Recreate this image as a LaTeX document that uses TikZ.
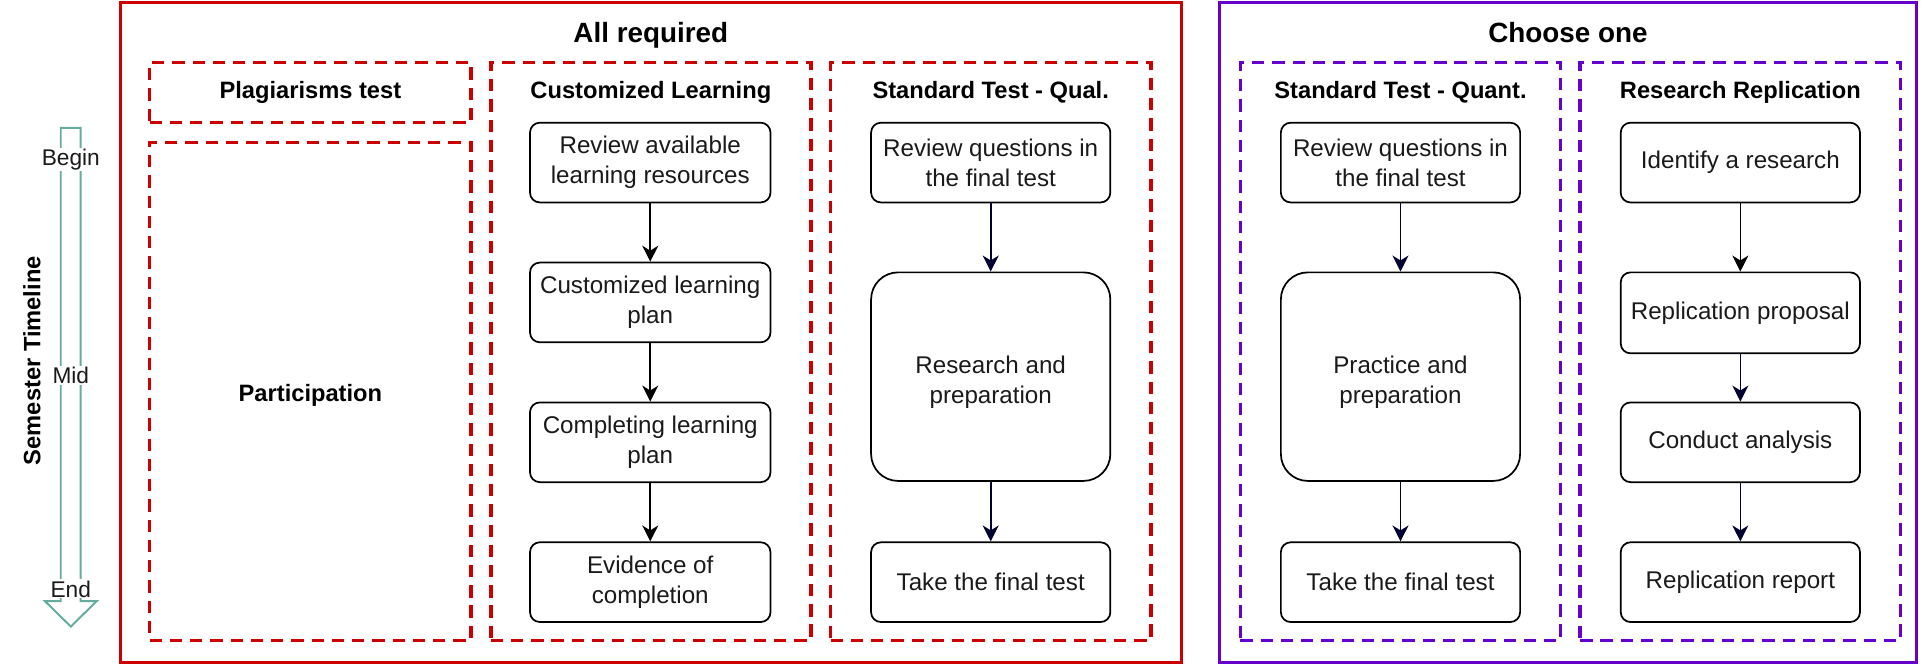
\documentclass[tikz,border=0pt]{standalone}
\usepackage{fontspec}
\setmainfont{Liberation Sans}
\usetikzlibrary{arrows.meta,positioning}
\definecolor{redc}{HTML}{CC0000}
\definecolor{purc}{HTML}{6600CC}
\definecolor{tealc}{HTML}{67AB9F}
\definecolor{navyc}{HTML}{000033}
\definecolor{txtc}{HTML}{1A1A1A}
\tikzset{
  outerred/.style={draw=redc,line width=2.7pt},
  outerpur/.style={draw=purc,line width=2.7pt},
  dashred/.style={draw=redc,line width=2.9pt,dash pattern=on 10pt off 6.5pt},
  dashpur/.style={draw=purc,line width=2.9pt,dash pattern=on 10pt off 6.5pt},
  titletxt/.style={font=\fontsize{22.7}{27}\selectfont\bfseries,inner sep=0pt,anchor=base},
  headtxt/.style={font=\fontsize{19.3}{23}\selectfont\bfseries,inner sep=0pt,anchor=base},
  stepbox/.style={draw=black,line width=1.4pt,rounded corners=8pt,align=center,
    minimum width=195pt,minimum height=65pt,inner sep=0pt,text=txtc,
    font=\fontsize{19.7}{24.5}\selectfont},
  bigbox/.style={stepbox,rounded corners=22pt,minimum height=170pt,
    text height=51.5pt,text depth=7.5pt},
  arr/.style={line width=1.4pt,-{Stealth[length=13pt,width=13pt,inset=4pt]}},
  arrk/.style={arr,draw=black},
  arrn/.style={arr,draw=navyc,-{Stealth[length=13pt,width=13pt,inset=4pt,fill=navyc]}},
  tllabel/.style={fill=white,inner sep=1pt,text=txtc,font=\fontsize{18.5}{22}\selectfont},
}
\begin{document}
\begin{tikzpicture}[x=1pt,y=-1pt]
\useasboundingbox[fill=white] (0,0) rectangle (1568.2,541.2);

% outer boxes
\node[outerred,minimum width=865pt,minimum height=538pt,inner sep=0pt] (allreq) at (530.5,271) {};
\node[outerpur,minimum width=568pt,minimum height=538pt,inner sep=0pt] (chooseone) at (1278,271) {};
\node[titletxt] (t1) at (530.5,35) {All required};
\node[titletxt] (t2) at (1278,35) {Choose one};

% dashed sub-boxes
\node[dashred,minimum width=262pt,minimum height=49pt,inner sep=0pt] (plag) at (253,75.5) {};
\node[dashred,minimum width=262pt,minimum height=406pt,inner sep=0pt] (part) at (253,319) {};
\node[dashred,minimum width=261pt,minimum height=471pt,inner sep=0pt] (cust) at (530.5,286.5) {};
\node[dashred,minimum width=261pt,minimum height=471pt,inner sep=0pt] (qual) at (807.5,286.5) {};
\node[dashpur,minimum width=261pt,minimum height=471pt,inner sep=0pt] (quant) at (1141.5,286.5) {};
\node[dashpur,minimum width=261pt,minimum height=471pt,inner sep=0pt] (repl) at (1418.5,286.5) {};

\node[headtxt] (hplag) at (253,80) {Plagiarisms test};
\node[headtxt] (hpart) at (253,327) {Participation};
\node[headtxt] (hcust) at (530.5,80) {Customized Learning};
\node[headtxt] (hqual) at (807.5,80) {Standard Test - Qual.};
\node[headtxt] (hquant) at (1141.5,80) {Standard Test - Quant.};
\node[headtxt] (hrepl) at (1418.5,80) {Research Replication};

% Customized learning
\node[stepbox,minimum width=196pt] (c1) at (530,132.5) {Review available\\learning resources};
\node[stepbox,minimum width=196pt] (c2) at (530,246.5) {Customized learning\\plan};
\node[stepbox,minimum width=196pt] (c3) at (530,360.5) {Completing learning\\plan};
\node[stepbox,minimum width=196pt] (c4) at (530,474.5) {Evidence of\\completion};
\draw[arrk] (c1) -- (c2);
\draw[arrk] (c2) -- (c3);
\draw[arrk] (c3) -- (c4);

% Standard test qual
\node[stepbox] (q1) at (807.5,132.5) {Review questions in\\the final test};
\node[bigbox] (q2) at (807.5,307) {Research and\\preparation};
\node[stepbox] (q3) at (807.5,474.5) {Take the final test};
\draw[arrn] (q1) -- (q2);
\draw[arrn] (q2) -- (q3);

% Standard test quant
\node[stepbox] (n1) at (1141.5,132.5) {Review questions in\\the final test};
\node[bigbox] (n2) at (1141.5,307) {Practice and\\preparation};
\node[stepbox] (n3) at (1141.5,474.5) {Take the final test};
\draw[arrn] (n1) -- (n2);
\draw[arrn] (n2) -- (n3);

% Research replication
\node[stepbox] (r1) at (1418.5,132.5) {Identify a research};
\node[stepbox,minimum height=66pt] (r2) at (1418.5,255) {Replication proposal};
\node[stepbox] (r3) at (1418.5,360.5) {Conduct analysis};
\node[stepbox] (r4) at (1418.5,474.5) {Replication report};
\draw[arrk] (r1) -- (r2);
\draw[arrn] (r2) -- (r3);
\draw[arrn] (r3) -- (r4);

% timeline
\draw[draw=tealc,line width=1.6pt,fill=white,line join=miter]
  (49.5,104.3) -- (65.8,104.3) -- (65.8,490) -- (78.8,490) -- (57.7,510.7)
  -- (36.7,490) -- (49.5,490) -- cycle;
\node[tllabel] (lbegin) at (57.7,130) {Begin};
\node[tllabel] (lmid) at (57.7,306) {Mid};
\node[tllabel] (lend) at (57.7,480) {End};
\node[font=\fontsize{19.3}{23}\selectfont\bfseries,inner sep=0pt,rotate=90,text=black] (tl) at (26,294) {Semester Timeline};
\end{tikzpicture}
\end{document}
